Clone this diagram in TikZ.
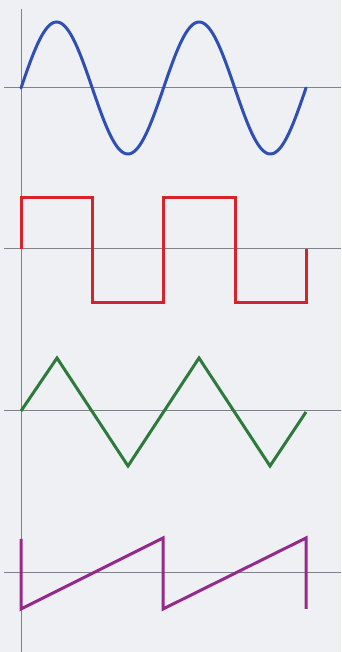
\documentclass[tikz,border=0pt]{standalone}
\definecolor{bgc}{HTML}{EEF0F3}
\definecolor{axisc}{HTML}{7E838A}
\definecolor{sinec}{HTML}{2F4FB4}
\definecolor{sqc}{HTML}{D8222A}
\definecolor{tric}{HTML}{2E7A3C}
\definecolor{sawc}{HTML}{962A8C}
\begin{document}
\begin{tikzpicture}[x=1pt,y=1pt,
  axis/.style={axisc,line width=1pt},
  wave/.style={line width=3pt,line join=miter}]
\fill[bgc] (0,0) rectangle (341,652);
\useasboundingbox (0,0) rectangle (341,652);
% vertical axis
\draw[axis] (21,643) -- (21,0);
% horizontal axes
\draw[axis] (4,564) -- (341,564);
\draw[axis] (4,403) -- (341,403);
\draw[axis] (4,241) -- (341,241);
\draw[axis] (4,79) -- (341,79);
% sine
\draw[wave,sinec,line cap=round] plot[domain=0:720,samples=200,smooth] ({21+\x*0.395833},{564+66*sin(\x)});
% square
\draw[wave,sqc] (21,403) -- (21,454) -- (92,454) -- (92,349) -- (163,349) -- (163,454) -- (235,454) -- (235,349) -- (306,349) -- (306,403);
% triangle
\draw[wave,tric] (21,241) -- (57,294) -- (128,186) -- (199,294) -- (270,186) -- (306,240);
% sawtooth
\draw[wave,sawc] (21,113) -- (21,43) -- (163,114) -- (163,43) -- (306,114) -- (306,43);
\end{tikzpicture}
\end{document}
